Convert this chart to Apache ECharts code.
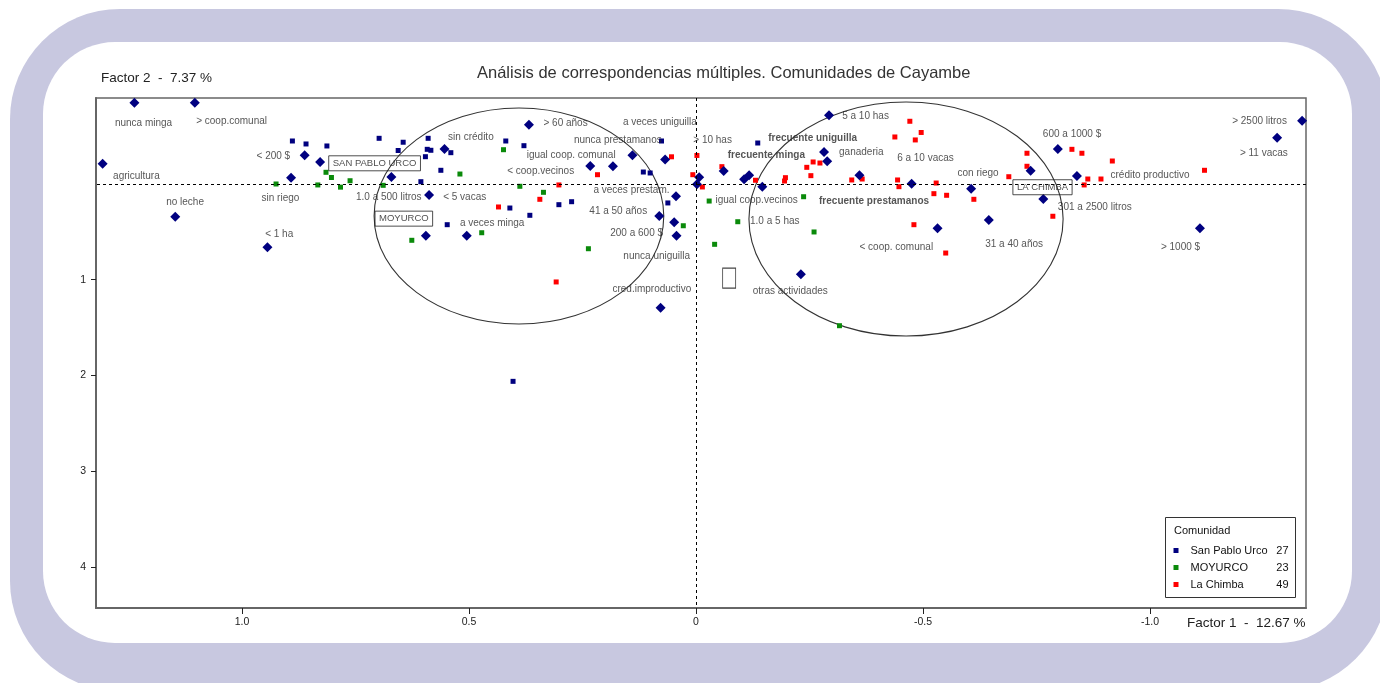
<!DOCTYPE html>
<html>
<head>
<meta charset="utf-8">
<title>Análisis de correspondencias múltiples</title>
<script src="https://cdn.jsdelivr.net/npm/echarts@6/dist/echarts.min.js"></script>
<style>
  html, body { margin: 0; padding: 0; background: #fff; }
  #acm { width: 1380px; height: 683px; }
</style>
</head>
<body>
<div id="acm"></div>
<script>
// modalidades (rombos azules)  [factor1, factor2]
var modalidades = [
  [1.237, -0.849], [1.104, -0.849], [1.307, -0.212], [1.147, 0.341], [0.862, -0.300],
  [0.828, -0.230], [0.892, -0.066], [0.944, 0.661], [0.671, -0.073], [0.368, -0.619],
  [0.554, -0.366], [0.140, -0.301], [0.068, -0.256], [0.233, -0.188], [0.183, -0.186],
  [0.588, 0.115], [0.044, 0.127], [0.081, 0.334], [0.048, 0.400], [0.043, 0.540],
  [0.595, 0.540], [0.505, 0.540], [0.078, 1.293], [-0.007, -0.070], [-0.002, 0.003],
  [-0.293, -0.717], [-0.282, -0.334], [-0.289, -0.237], [-0.061, -0.136], [-0.117, -0.091],
  [-0.106, -0.049], [-0.146, 0.028], [-0.360, -0.091], [-0.475, -0.003], [-0.231, 0.942],
  [-0.606, 0.049], [-0.645, 0.376], [-0.532, 0.463], [-0.737, -0.139], [-0.797, -0.366],
  [-0.839, -0.084], [-0.765, 0.157], [-1.110, 0.463], [-1.280, -0.484], [-1.335, -0.661]
];

// individuos por comunidad
var sanPabloUrco = [
  [0.889, -0.449], [0.859, -0.418], [0.813, -0.397], [0.698, -0.477], [0.645, -0.436],
  [0.656, -0.350], [0.590, -0.477], [0.592, -0.362], [0.584, -0.352], [0.596, -0.285],
  [0.540, -0.327], [0.562, -0.143], [0.606, -0.024], [0.419, -0.449], [0.379, -0.400],
  [0.076, -0.449], [0.116, -0.125], [0.101, -0.115], [0.410, 0.251], [0.302, 0.216],
  [0.274, 0.185], [0.366, 0.327], [0.548, 0.425], [0.062, 0.198], [-0.136, -0.428],
  [0.403, 2.061]
];
var moyurco = [
  [0.925, 0.000], [0.833, 0.010], [0.815, -0.122], [0.803, -0.068], [0.783, 0.033],
  [0.762, -0.034], [0.689, 0.014], [0.626, 0.588], [0.520, -0.104], [0.424, -0.358],
  [0.388, 0.024], [0.336, 0.087], [0.472, 0.509], [0.237, 0.676], [0.028, 0.436],
  [-0.029, 0.178], [-0.092, 0.394], [-0.041, 0.630], [-0.237, 0.133], [-0.260, 0.501],
  [-0.316, 1.480]
];
var laChimba = [
  [0.054, -0.284], [0.217, -0.097], [0.302, 0.010], [0.344, 0.160], [0.435, 0.240],
  [0.308, 1.023], [0.007, -0.097], [-0.002, -0.298], [-0.014, 0.031], [-0.057, -0.181],
  [-0.131, -0.039], [-0.195, -0.031], [-0.197, -0.066], [-0.244, -0.174], [-0.253, -0.087],
  [-0.258, -0.230], [-0.273, -0.219], [-0.343, -0.042], [-0.366, -0.052], [-0.438, -0.491],
  [-0.444, -0.042], [-0.447, 0.028], [-0.471, -0.655], [-0.483, -0.460], [-0.496, -0.538],
  [-0.480, 0.425], [-0.529, -0.010], [-0.524, 0.101], [-0.552, 0.118], [-0.612, 0.160],
  [-0.550, 0.721], [-0.689, -0.076], [-0.729, -0.321], [-0.729, -0.185], [-0.828, -0.362],
  [-0.850, -0.321], [-0.863, -0.052], [-0.892, -0.052], [-0.855, 0.010], [-0.786, 0.337],
  [-0.917, -0.240], [-1.120, -0.143]
];

// etiquetas de modalidades [x, y, texto] (borde izquierdo del texto)
var etiquetas = [
  [1.280, -0.637, 'nunca minga'], [1.101, -0.658, '> coop.comunal'], [1.284, -0.084, 'agricultura'],
  [1.167, 0.188, 'no leche'], [0.968, -0.292, '< 200 $'], [0.957, 0.146, 'sin riego'],
  [0.949, 0.522, '< 1 ha'], [0.749, 0.143, '1.0 a 500 litros'], [0.557, 0.143, '< 5 vacas'],
  [0.520, 0.410, 'a veces minga'], [0.546, -0.484, 'sin crédito'], [0.336, -0.634, '> 60 años'],
  [0.161, -0.640, 'a veces uniguilla'], [0.269, -0.460, 'nunca prestamanos'],
  [0.373, -0.303, 'igual coop. comunal'], [0.416, -0.128, '< coop.vecinos'],
  [0.226, 0.063, 'a veces prestam.'], [0.235, 0.289, '41 a 50 años'], [0.189, 0.515, '200 a 600 $'],
  [0.160, 0.759, 'nunca uniguilla'], [0.184, 1.100, 'cred.improductivo'], [0.006, -0.452, '> 10 has'],
  [-0.322, -0.710, '5 a 10 has'], [-0.315, -0.334, 'ganaderia'], [-0.043, 0.167, 'igual coop.vecinos'],
  [-0.119, 0.386, '1.0 a 5 has'], [-0.125, 1.117, 'otras actividades'], [-0.360, 0.661, '< coop. comunal'],
  [-0.443, -0.266, '6 a 10 vacas'], [-0.576, -0.115, 'con riego'], [-0.637, 0.627, '31 a 40 años'],
  [-0.764, -0.522, '600 a 1000 $'], [-0.797, 0.248, '301 a 2500 litros'],
  [-0.913, -0.094, 'crédito productivo'], [-1.024, 0.665, '> 1000 $'],
  [-1.181, -0.651, '> 2500 litros'], [-1.198, -0.316, '> 11 vacas']
];
var etiquetasNegrita = [
  [-0.159, -0.473, 'frecuente uniguilla'], [-0.070, -0.300, 'frecuente minga'],
  [-0.271, 0.178, 'frecuente prestamanos']
];
var comunidadesCaja = [
  [0.809, -0.216, 'SAN PABLO URCO'], [0.707, 0.362, 'MOYURCO'], [-0.698, 0.034, 'LA CHIMBA']
];
var cajaVacia = [[-0.073, 0.982]];

// elipses [cx, cy, rx, ry]
var elipses = [[0.390, 0.334, 0.319, 1.128], [-0.4626, 0.366, 0.346, 1.222]];

var xTicks = [-1, -0.5, 0, 0.5, 1];
var yTicks = [1, 2, 3, 4];
var comunidades = ['San Pablo Urco', 'MOYURCO', 'La Chimba'];
var efectivos = [27, 23, 49];
var coloresComunidad = ['#00007f', '#0a8a0a', '#ff0000'];

var chart = echarts.init(document.getElementById('acm'));
var fuente = '"Liberation Sans", Arial, sans-serif';

function textoSerie(data, weight) {
  return {
    type: 'scatter', data: data, symbolSize: 0, silent: true, z: 6,
    label: {
      show: true, position: 'right', distance: 0,
      formatter: function (p) { return p.data[2]; },
      fontFamily: fuente, fontSize: 10, fontWeight: weight, color: '#2a2a2a'
    }
  };
}

var series = [
  {
    type: 'custom', data: elipses, silent: true, z: 1,
    encode: { x: 0, y: 1 },
    renderItem: function (params, api) {
      var c = api.coord([api.value(0), api.value(1)]);
      var s = api.size([api.value(2), api.value(3)], [api.value(0), api.value(1)]);
      return {
        type: 'ellipse',
        shape: { cx: c[0], cy: c[1], rx: Math.abs(s[0]), ry: Math.abs(s[1]) },
        style: { fill: 'none', stroke: '#333', lineWidth: 1.1 }
      };
    }
  },
  {
    type: 'scatter', name: 'modalidades', data: modalidades, symbol: 'diamond', symbolSize: 10,
    itemStyle: { color: '#000080', opacity: 1 }, z: 4,
    markLine: {
      silent: true, symbol: 'none', label: { show: false },
      lineStyle: { color: '#000', type: [3, 3], width: 1 },
      data: [{ xAxis: 0 }, { yAxis: 0 }]
    }
  }
];
[sanPabloUrco, moyurco, laChimba].forEach(function (d, i) {
  series.push({
    type: 'scatter', name: comunidades[i], data: d, symbol: 'rect', symbolSize: 5,
    itemStyle: { color: coloresComunidad[i], opacity: 1 }, z: 3
  });
});
series.push(textoSerie(etiquetas, 'normal'));
series.push(textoSerie(etiquetasNegrita, 'bold'));
series.push({
  type: 'scatter', data: comunidadesCaja, symbolSize: 0, silent: true, z: 6,
  label: {
    show: true, position: 'right', distance: 0,
    formatter: function (p) { return p.data[2]; },
    fontFamily: fuente, fontSize: 9.5, color: '#222',
    borderColor: '#222', borderWidth: 1, padding: [3, 4, 2, 4]
  }
});
series.push({
  type: 'scatter', data: cajaVacia, symbol: 'rect', symbolSize: [13, 20], silent: true, z: 6,
  itemStyle: { color: 'rgba(0,0,0,0)', borderColor: '#444', borderWidth: 1, opacity: 1 }
});

var option = {
  animation: false,
  textStyle: { fontFamily: fuente },
  title: {
    text: 'Análisis de correspondencias múltiples. Comunidades de Cayambe',
    left: 472, top: 60,
    textStyle: { fontFamily: fuente, fontSize: 16.5, fontWeight: 'normal', color: '#333' }
  },
  graphic: [
    { type: 'rect', z: -10, shape: { x: 10, y: 9, width: 1378, height: 682, r: 110 }, style: { fill: '#c8c8e0' } },
    { type: 'rect', z: -9, shape: { x: 43, y: 42, width: 1309, height: 601, r: 72 }, style: { fill: '#fff' } },
    { type: 'text', z: 10, left: 101, top: 71, style: { text: 'Factor 2  -  7.37 %', font: '13.5px ' + fuente, fill: '#222' } },
    { type: 'text', z: 10, left: 1187, top: 616, style: { text: 'Factor 1  -  12.67 %', font: '13.5px ' + fuente, fill: '#222' } },
    { type: 'rect', z: 10, shape: { x: 1165.5, y: 517.5, width: 130, height: 80 }, style: { fill: '#fff', stroke: '#333', lineWidth: 1 } },
    { type: 'text', z: 11, left: 1174, top: 525, style: { text: 'Comunidad', font: '11px ' + fuente, fill: '#111' } }
  ],
  legend: {
    data: comunidades, orient: 'vertical', left: 1173.5, top: 545, padding: 0, z: 12,
    icon: 'rect', itemWidth: 5, itemHeight: 5, itemGap: 6, selectedMode: false,
    formatter: function (name) {
      return '{n|' + name + '}{c|' + efectivos[comunidades.indexOf(name)] + '}';
    },
    textStyle: {
      fontFamily: fuente, fontSize: 11, color: '#111',
      rich: {
        n: { width: 84, padding: [0, 0, 0, 7], fontSize: 11, lineHeight: 12, fontFamily: fuente },
        c: { width: 14, align: 'right', fontSize: 11, lineHeight: 12, fontFamily: fuente }
      }
    }
  },
  grid: { left: 96, right: 74, top: 98, bottom: 75, show: true, borderColor: '#666', borderWidth: 1.5, backgroundColor: 'transparent' },
  xAxis: {
    type: 'value', inverse: true, min: -1.3436, max: 1.3216,
    splitLine: { show: false },
    axisLine: { show: true, onZero: false, lineStyle: { color: '#666', width: 2 } },
    axisTick: { show: true, length: 6, customValues: xTicks, lineStyle: { color: '#222' } },
    axisLabel: {
      customValues: xTicks, margin: 9, fontSize: 10.5, color: '#222',
      formatter: function (v) { return v === 0 ? '0' : v.toFixed(1); }
    }
  },
  yAxis: {
    type: 'value', inverse: true, min: -0.898, max: 4.428,
    splitLine: { show: false },
    axisLine: { show: true, onZero: false, lineStyle: { color: '#666', width: 2 } },
    axisTick: { show: true, length: 5, customValues: yTicks, lineStyle: { color: '#222' } },
    axisLabel: { customValues: yTicks, margin: 10, fontSize: 10.5, color: '#222' }
  },
  series: series
};

chart.setOption(option);
</script>
</body>
</html>
